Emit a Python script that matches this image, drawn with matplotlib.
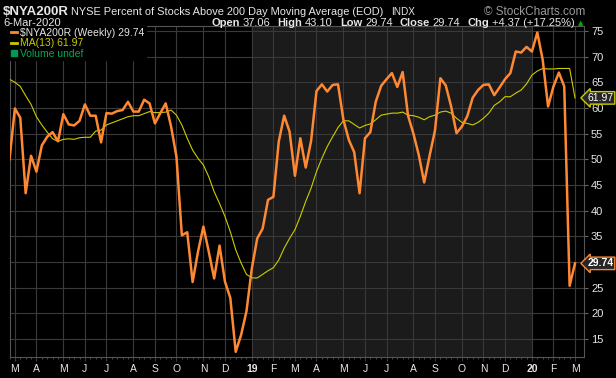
import matplotlib
matplotlib.use("Agg")
import matplotlib.pyplot as plt
from matplotlib.lines import Line2D
from matplotlib.patches import Rectangle
import numpy as np
import pandas as pd

# weekly bars (dated by week start), first one only partly visible
weeks = pd.date_range("2018-02-26", periods=106, freq="W-MON")

nya200r = [
    50.0, 59.9, 58.1, 43.4, 50.7, 47.6, 52.7, 54.4, 55.3, 53.5,
    58.8, 56.8, 56.6, 57.5, 60.7, 58.5, 58.5, 53.3, 59.0, 58.9,
    59.4, 59.6, 61.2, 59.3, 59.3, 61.6, 60.9, 57.0, 59.0, 60.9,
    56.4, 50.5, 35.2, 35.8, 26.1, 32.0, 36.9, 32.0, 26.8, 33.2,
    26.2, 23.0, 12.5, 15.8, 20.4, 28.8, 34.6, 36.5, 42.1, 42.7,
    53.5, 58.5, 55.4, 46.8, 54.1, 48.4, 53.6, 63.3, 64.6, 63.2,
    64.5, 64.6, 57.7, 53.8, 51.4, 43.4, 54.1, 55.3, 61.2, 64.3,
    65.6, 66.8, 64.1, 67.0, 58.5, 55.0, 50.8, 45.5, 50.7, 55.6,
    65.8, 64.4, 60.3, 55.1, 56.4, 58.4, 62.0, 63.5, 64.5, 64.6,
    62.5, 64.0, 65.6, 66.8, 71.0, 70.8, 71.9, 71.0, 74.7, 69.4,
    60.3, 64.2, 66.9, 64.2, 25.37, 29.74,
]

ma13 = [
    65.6, 65.0, 64.2, 62.4, 60.7, 58.3, 56.7, 55.3, 54.0, 53.5,
    53.9, 54.0, 53.9, 54.2, 54.3, 54.3, 55.5, 55.7, 56.7, 57.1,
    57.5, 57.9, 58.3, 58.5, 58.5, 58.9, 59.3, 59.1, 59.1, 59.2,
    59.6, 58.6, 56.7, 54.1, 51.8, 50.2, 48.9, 46.6, 43.7, 41.4,
    38.9, 35.9, 32.4, 29.8, 27.6, 26.9, 26.9, 27.6, 28.3, 28.9,
    30.4, 32.7, 34.6, 36.3, 38.9, 41.8, 44.4, 47.6, 50.2, 52.5,
    54.4, 56.2, 57.5, 57.5, 56.8, 56.1, 56.6, 56.9, 57.7, 58.6,
    58.8, 59.0, 59.0, 59.2, 58.6, 58.5, 58.2, 57.7, 58.3, 58.6,
    59.2, 59.4, 59.0, 58.0, 57.2, 57.0, 56.7, 57.2, 58.0, 59.0,
    60.5, 61.2, 62.2, 62.2, 62.9, 63.5, 64.7, 66.4, 67.2, 67.7,
    67.6, 67.6, 67.7, 67.7, 67.7, 61.97,
]

y_ticks = [15, 20, 25, 30, 35, 40, 45, 50, 55, 60, 65, 70, 75]
# the 30 label sits under the last-value tag in the reference
y_labels = ["" if v == 30 else str(v) for v in y_ticks]

W, H = 616, 378
ORANGE = "#ff8833"
YELLOW = "#cccc00"
GRID = "#3a3a3a"
TXT = "#e6e6e6"

plt.rcParams["font.family"] = ["Liberation Sans", "DejaVu Sans"]

fig = plt.figure(figsize=(W / 100, H / 100), dpi=100, facecolor="black")
ax = fig.add_axes([9.5 / W, 1 - 357 / H, (584 - 9.5) / W, (357 - 26) / H])
ax.set_facecolor("black")

x = np.arange(len(weeks))

# month ticks at the first weekly bar of each month
first = [i for i in range(1, len(weeks)) if weeks[i].month != weeks[i - 1].month]
labels = []
for i in first:
    d = weeks[i]
    labels.append(d.strftime("%y") if d.month == 1 else d.strftime("%b")[0])

# 2019 shaded
y19 = [i for i in first if weeks[i].month == 1]
ax.axvspan(y19[0], y19[1], color="#1b1b1b", zorder=0, lw=0)

ax.plot(x, ma13, color=YELLOW, lw=0.8, zorder=3)
ax.plot(x, nya200r, color=ORANGE, lw=1.8, zorder=4, solid_joinstyle="round")

ax.set_xlim(0.63, 106.67)
ax.set_ylim(11.5, 75.97)

ax.set_xticks(first)
ax.set_xticklabels(labels)
for t, i in zip(ax.get_xticklabels(), first):
    if weeks[i].month == 1:
        t.set_fontweight("bold")
ax.set_xticks(x, minor=True)
ax.tick_params(axis="x", which="major", colors=GRID, labelcolor=TXT, labelsize=7.5,
               length=3, pad=2)
ax.tick_params(axis="x", which="minor", colors="#555555", length=1.5)

ax.yaxis.tick_right()
ax.set_yticks(y_ticks)
ax.set_yticklabels(y_labels)
ax.tick_params(axis="y", colors="#666666", labelcolor=TXT, labelsize=8, length=3, pad=2)

ax.grid(True, which="major", color=GRID, lw=0.8)
for s in ax.spines.values():
    s.set_color("#555555")
    s.set_linewidth(0.8)

# last value tags on the right
ax.text(1.006, ma13[-1], f"{ma13[-1]:.2f}", transform=ax.get_yaxis_transform(),
        ha="left", va="center", fontsize=7.5, color="white", zorder=6,
        bbox=dict(boxstyle="larrow,pad=0.12", fc="#262626", ec=YELLOW, lw=1))
ax.text(1.006, nya200r[-1], f"{nya200r[-1]:.2f}", transform=ax.get_yaxis_transform(),
        ha="left", va="center", fontsize=7.5, color="white", fontweight="bold", zorder=6,
        bbox=dict(boxstyle="larrow,pad=0.12", fc="#262626", ec=ORANGE, lw=1))

# legend
handles = [
    Line2D([], [], color=ORANGE, lw=2),
    Line2D([], [], color=YELLOW, lw=2),
    Rectangle((0, 0), 1, 1, color="#009955"),
]
leg = ax.legend(handles, [r"\$NYA200R (Weekly) %.2f" % nya200r[-1],
                          "MA(13) %.2f" % ma13[-1], "Volume undef"],
                loc="upper left", fontsize=7.5, frameon=True, facecolor="black",
                edgecolor="black", framealpha=1, borderaxespad=0, borderpad=0.15,
                handlelength=0.6, handleheight=0.6, handletextpad=0.3,
                labelspacing=0.05, fancybox=False)
leg.set_zorder(7)
for t, c in zip(leg.get_texts(), [TXT, YELLOW, "#00aa55"]):
    t.set_color(c)

# header
def px(xp, yp):
    return xp / W, 1 - yp / H

fig.text(*px(3, 12), r"\$NYA200R", fontsize=9.5, fontweight="bold", color=TXT, va="center")
fig.text(*px(71, 12), "NYSE Percent of Stocks Above 200 Day Moving Average (EOD)",
         fontsize=7.9, color=TXT, va="center")
fig.text(*px(391, 12), "INDX", fontsize=7.2, color=TXT, va="center")
fig.text(*px(585, 12), "© StockCharts.com", fontsize=8.5, color="#9a9a9a",
         va="center", ha="right")
fig.text(*px(3, 23), "6-Mar-2020", fontsize=8, color=TXT, va="center")
fig.text(*px(581, 23.5), "▲", fontsize=5, color="#00b000", va="center", ha="center",
         family="DejaVu Sans")

segments = [("Open", "bold", 3), ("37.06", "normal", 7), ("High", "bold", 3),
            ("43.10", "normal", 7), ("Low", "bold", 3), ("29.74", "normal", 7),
            ("Close", "bold", 3), ("29.74", "normal", 7), ("Chg", "bold", 3),
            ("+4.37 (+17.25%)", "normal", 0)]
renderer = fig.canvas.get_renderer()
xr = 575
for s, wt, gap in reversed(segments):
    xr -= gap
    t = fig.text(*px(xr, 23), s, fontsize=8, fontweight=wt, color=TXT,
                 va="center", ha="right")
    xr -= t.get_window_extent(renderer).width

fig.savefig("out.png", dpi=100, facecolor="black")
